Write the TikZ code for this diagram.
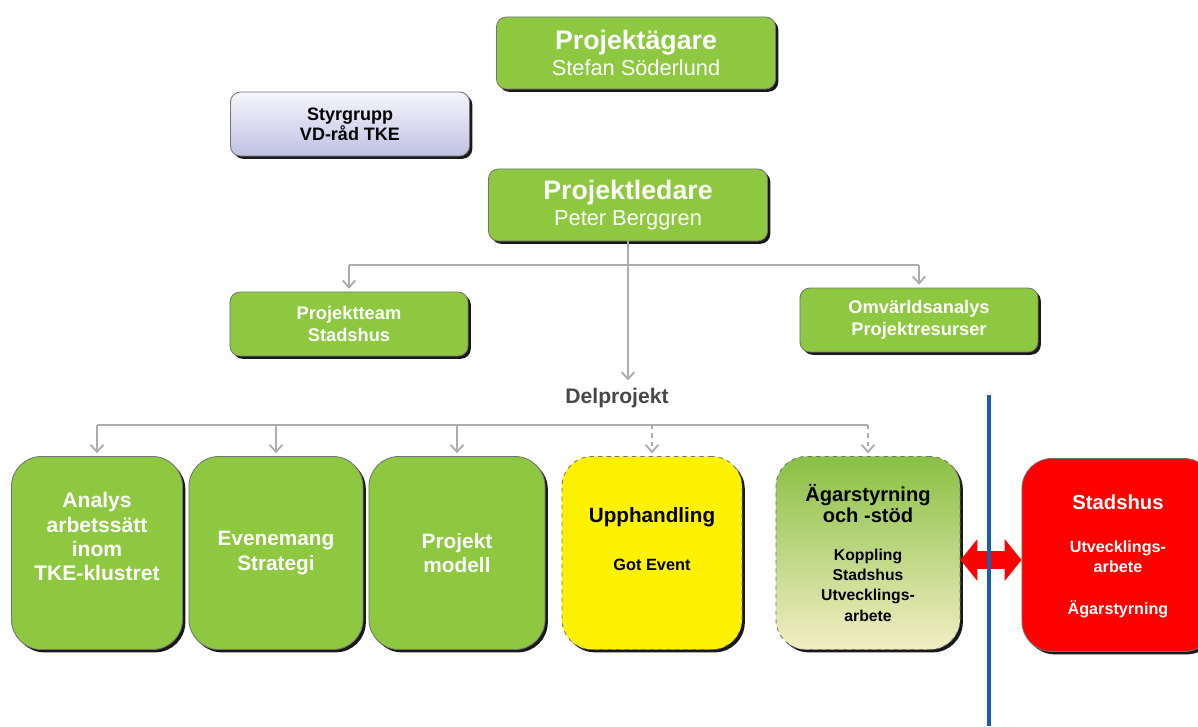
\documentclass[tikz,border=0pt]{standalone}
\usepackage{fontspec}
\setmainfont{Liberation Sans}
\usetikzlibrary{arrows.meta,shadows}
\definecolor{boxgreen}{RGB}{141,200,64}
\definecolor{linegray}{RGB}{172,172,172}
\definecolor{lavtop}{RGB}{246,246,252}
\definecolor{lavbot}{RGB}{192,192,228}
\definecolor{agtop}{RGB}{138,192,68}
\definecolor{agbot}{RGB}{242,238,196}
\definecolor{bluebar}{RGB}{28,92,172}

\begin{document}
\begin{tikzpicture}[x=0.025cm,y=-0.025cm,
    box/.style={draw=black!55,line width=0.6pt,rounded corners=0.25cm,align=center,inner sep=0pt,
      drop shadow={shadow xshift=0.07cm,shadow yshift=-0.07cm,opacity=0.9,fill=black}},
    green/.style={box,fill=boxgreen,text=white},
    big/.style={minimum width=6.975cm,minimum height=1.8cm},
    mid/.style={minimum width=5.95cm,minimum height=1.6cm},
    del/.style={rounded corners=0.75cm,minimum height=4.825cm},
    arr/.style={draw=linegray,line width=1.3pt,shorten >=2pt,-{Straight Barb[length=5pt,width=9pt]}},
    darr/.style={arr,dashed}]
    \useasboundingbox (0,0) rectangle (1198,726);
    \node[green,big,font=\fontsize{15.5}{19}\selectfont] (agare) at (636,53)
        {{\fontsize{19}{21}\selectfont\bfseries Projektägare}\\Stefan Söderlund};
    \node[box,top color=lavtop,bottom color=lavbot,minimum width=5.975cm,minimum height=1.6cm,
        font=\fontsize{12.8}{14.5}\selectfont\bfseries] (styr) at (350,124) {Styrgrupp\\VD-råd TKE};
    \node[green,big,font=\fontsize{15.5}{19}\selectfont] (ledare) at (628,205)
        {{\fontsize{19}{21}\selectfont\bfseries Projektledare}\\Peter Berggren};
    \node[green,mid,font=\fontsize{13}{16}\selectfont\bfseries] (team) at (349,324) {Projektteam\\Stadshus};
    \node[green,mid,font=\fontsize{13}{16}\selectfont\bfseries] (omv) at (919,320) {Omvärldsanalys\\Projektresurser};
    \node[text=black!72,font=\fontsize{15}{18}\selectfont\bfseries] (delp) at (617,398) {Delprojekt};
    \node[green,del,minimum width=4.275cm,font=\fontsize{15}{17.3}\selectfont\bfseries] (analys) at (97,553)
        {Analys\\arbetssätt\\inom\\TKE-klustret\\[0.2cm]};
    \node[green,del,minimum width=4.35cm,font=\fontsize{14.8}{17.3}\selectfont\bfseries] (even) at (276,553)
        {Evenemang\\Strategi};
    \node[green,del,minimum width=4.4cm,font=\fontsize{14.8}{17.3}\selectfont\bfseries] (modell) at (457,553)
        {Projekt\\modell};
    \node[box,del,dashed,fill=yellow,minimum width=4.5cm,font=\fontsize{11.6}{14}\selectfont\bfseries] (upph) at (652,553)
        {{\fontsize{14.7}{17}\selectfont Upphandling}\\[0.7cm]Got Event\\[0.2cm]};
    \node[box,del,dashed,top color=agtop,bottom color=agbot,minimum width=4.6cm,
        font=\fontsize{11.2}{14.4}\selectfont\bfseries] (agar) at (868,553)
        {{\fontsize{14.3}{17.5}\selectfont Ägarstyrning}\\{\fontsize{14.3}{17.5}\selectfont och -stöd}\\[0.45cm]
         Koppling\\Stadshus\\Utvecklings-\\arbete};
    \node[box,del,fill=red,text=white,minimum width=4.8cm,font=\fontsize{11.5}{14.4}\selectfont\bfseries] (stad) at (1118,555)
        {{\fontsize{14.4}{17}\selectfont Stadshus}\\[0.55cm]Utvecklings-\\arbete\\[0.55cm]Ägarstyrning\\[-0.5cm]};
    \coordinate (b1) at (629,265);
    \coordinate (b2) at (629,425);
    \coordinate (mid) at (990,560);
    \coordinate (vtop) at (989,395);
    \coordinate (vbot) at (989,726);
    \draw[linegray,line width=1.3pt] (team.north |- b1) -- (omv.north |- b1);
    \draw[arr] (team.north |- b1) -- (team.north);
    \draw[arr] (omv.north |- b1) -- (omv.north);
    \draw[arr] (ledare.south) -- (ledare.south |- delp.north);
    \draw[linegray,line width=1.3pt] (analys.north |- b2) -- (upph.north |- b2);
    \draw[linegray,line width=0.8pt] (upph.north |- b2) -- (agar.north |- b2);
    \draw[arr] (analys.north |- b2) -- (analys.north);
    \draw[arr] (even.north |- b2) -- (even.north);
    \draw[arr] (modell.north |- b2) -- (modell.north);
    \draw[darr] (upph.north |- b2) -- (upph.north);
    \draw[darr] (agar.north |- b2) -- (agar.north);
    \draw[red,line width=13pt,{Triangle[length=12pt,width=29pt]}-{Triangle[length=12pt,width=29pt]}]
        (agar.east |- mid) -- (stad.west |- mid);
    \draw[bluebar,line width=3pt] (vtop) -- (vbot);
\end{tikzpicture}
\end{document}
